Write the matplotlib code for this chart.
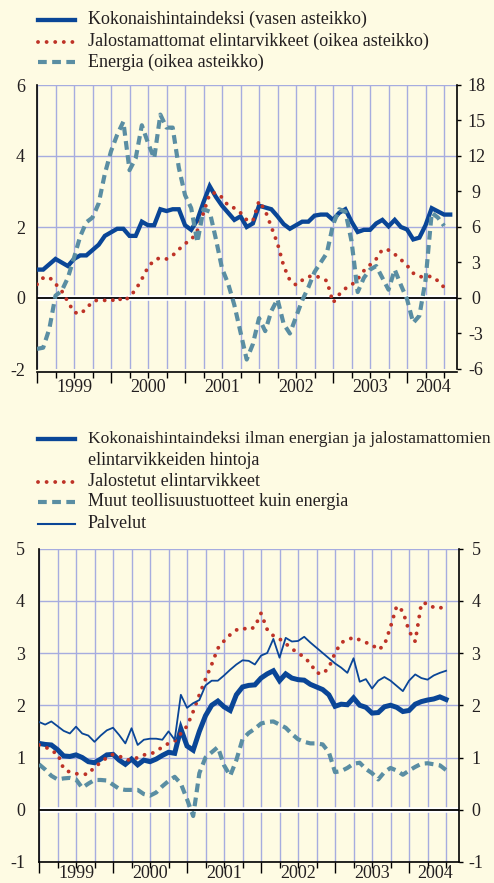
import numpy as np
import matplotlib
matplotlib.use("Agg")
import matplotlib.pyplot as plt
from matplotlib.lines import Line2D
from matplotlib.transforms import blended_transform_factory

plt.rcParams['font.family'] = ['Liberation Serif', 'DejaVu Serif']
plt.rcParams['axes.unicode_minus'] = False

# ---------------- data (monthly, starting January 1999) ----------------
years = ['1999', '2000', '2001', '2002', '2003', '2004']

# top panel
total_hicp = [0.8, 0.8, 0.95, 1.1, 1.0, 0.9, 1.1, 1.2, 1.2, 1.35,
              1.5, 1.75, 1.85, 1.95, 1.95, 1.75, 1.75, 2.15, 2.05, 2.05,
              2.5, 2.45, 2.5, 2.5, 2.05, 1.92, 2.2, 2.7, 3.15, 2.85,
              2.6, 2.4, 2.2, 2.3, 2.0, 2.1, 2.6, 2.55, 2.5, 2.3,
              2.08, 1.95, 2.05, 2.15, 2.15, 2.32, 2.35, 2.35, 2.2, 2.4,
              2.5, 2.15, 1.86, 1.92, 1.92, 2.1, 2.2, 2.02, 2.2, 2.0,
              1.93, 1.65, 1.7, 2.05, 2.53, 2.44, 2.35, 2.35]
unprocessed_food = [1.15, 1.7, 1.75, 1.2, 0.6, -0.3, -1.2, -1.35, -0.9, -0.3,
                    -0.15, -0.2, -0.28, 0.05, -0.28, 0.1, 0.7, 1.6, 2.6, 3.2,
                    3.4, 3.3, 3.6, 4.1, 4.6, 4.9, 5.7, 7.2, 8.8, 8.9,
                    8.5, 7.8, 7.6, 7.2, 6.6, 6.5, 8.2, 7.4, 6.0, 4.6,
                    2.7, 1.5, 1.1, 1.5, 1.8, 1.9, 1.7, 1.45, -0.4, 0.3,
                    0.8, 1.1, 1.6, 2.3, 2.8, 3.3, 4.1, 4.05, 3.7, 3.25,
                    2.75, 2.1, 1.8, 1.8, 1.83, 1.45, 0.9]
energy = [-4.3, -4.2, -2.6, 0.2, 0.6, 1.7, 3.4, 5.2, 6.4, 6.8,
          8.0, 10.5, 12.4, 13.8, 14.9, 10.8, 11.8, 14.6, 13.1, 11.8,
          15.5, 14.4, 14.4, 11.0, 8.7, 7.6, 4.7, 7.5, 7.3, 5.0,
          2.5, 1.2, -0.6, -2.9, -5.2, -3.9, -1.7, -2.8, -1.1, -0.1,
          -2.2, -3.0, -1.6, -0.2, 0.9, 2.2, 3.0, 3.8, 6.2, 7.5,
          7.3, 4.8, 0.5, 1.7, 2.4, 2.7, 1.7, 0.7, 2.4, 1.1,
          -0.1, -2.1, -1.5, 1.5, 7.2, 6.8, 6.1]

# bottom panel
core_hicp = [1.27, 1.25, 1.24, 1.15, 1.03, 1.02, 1.05, 1.0, 0.92, 0.9,
             0.97, 1.05, 1.06, 0.95, 0.87, 0.97, 0.86, 0.95, 0.92, 0.97,
             1.04, 1.1, 1.08, 1.55, 1.22, 1.14, 1.5, 1.8, 2.0, 2.08,
             1.97, 1.9, 2.2, 2.35, 2.38, 2.39, 2.52, 2.6, 2.66, 2.47,
             2.6, 2.52, 2.49, 2.48, 2.4, 2.35, 2.3, 2.2, 1.98, 2.02,
             2.01, 2.14, 2.0, 1.96, 1.85, 1.86, 1.97, 2.0, 1.96, 1.88,
             1.9, 2.02, 2.07, 2.1, 2.12, 2.16, 2.11]
processed_food = [1.24, 1.21, 1.12, 1.08, 0.78, 0.72, 0.69, 0.68, 0.68, 0.82,
                  0.9, 1.0, 1.06, 1.03, 0.96, 0.95, 1.0, 1.05, 1.06, 1.12,
                  1.2, 1.27, 1.31, 1.46, 1.6, 1.88, 2.2, 2.5, 2.78, 3.09,
                  3.23, 3.35, 3.44, 3.48, 3.44, 3.5, 3.76, 3.45, 3.33, 3.27,
                  3.18, 3.08, 3.0, 2.92, 2.8, 2.62, 2.6, 2.72, 3.0, 3.2,
                  3.25, 3.3, 3.25, 3.2, 3.16, 3.06, 3.15, 3.5, 3.9, 3.8,
                  3.42, 3.22, 3.95, 3.95, 3.87, 3.88, 3.8]
non_energy_goods = [0.87, 0.77, 0.65, 0.58, 0.6, 0.61, 0.58, 0.42, 0.5, 0.57,
                    0.57, 0.56, 0.48, 0.4, 0.38, 0.38, 0.38, 0.3, 0.27, 0.33,
                    0.45, 0.55, 0.63, 0.5, 0.2, -0.12, 0.7, 1.0, 1.1, 1.2,
                    0.85, 0.65, 0.95, 1.35, 1.47, 1.55, 1.65, 1.68, 1.69, 1.63,
                    1.57, 1.45, 1.35, 1.3, 1.27, 1.27, 1.25, 1.1, 0.72, 0.74,
                    0.8, 0.88, 0.9, 0.78, 0.7, 0.58, 0.72, 0.8, 0.75, 0.67,
                    0.75, 0.82, 0.88, 0.89, 0.87, 0.85, 0.76]
services = [1.68, 1.63, 1.69, 1.6, 1.51, 1.46, 1.59, 1.46, 1.42, 1.3,
            1.42, 1.52, 1.57, 1.43, 1.27, 1.56, 1.24, 1.34, 1.36, 1.36,
            1.34, 1.5, 1.34, 2.2, 1.95, 2.04, 2.1, 2.38, 2.47, 2.47,
            2.57, 2.68, 2.78, 2.86, 2.85, 2.78, 2.95, 3.0, 3.27, 2.91,
            3.29, 3.22, 3.23, 3.31, 3.2, 3.1, 3.0, 2.9, 2.8, 2.72,
            2.62, 2.9, 2.45, 2.5, 2.32, 2.47, 2.54, 2.47, 2.37, 2.27,
            2.47, 2.59, 2.52, 2.49, 2.57, 2.62, 2.66]

top_left_ticks = [-2, 0, 2, 4, 6]
top_right_ticks = [-6, -3, 0, 3, 6, 9, 12, 15, 18]
bottom_ticks = [-1, 0, 1, 2, 3, 4, 5]

legend_top = ['Kokonaishintaindeksi (vasen asteikko)',
              'Jalostamattomat elintarvikkeet (oikea asteikko)',
              'Energia (oikea asteikko)']
legend_bottom = ['Kokonaishintaindeksi ilman energian ja jalostamattomien',
                 'elintarvikkeiden hintoja',
                 'Jalostetut elintarvikkeet',
                 'Muut teollisuustuotteet kuin energia',
                 'Palvelut']

# ---------------- style ----------------
BG = '#fefbe3'
BLUE = '#0a4697'
RED = '#be3327'
TEAL = '#5a8ea3'
GRID = '#a6acdf'
TXT = '#231f20'
FS = 13

DOT = dict(color=RED, lw=2.8, linestyle=(0, (0.01, 2.2)), dash_capstyle='round')
DASH = dict(color=TEAL, lw=3.0, linestyle=(0, (2.1, 1.3)), dash_capstyle='butt')

W, H = 494, 883
fig = plt.figure(figsize=(W / 100, H / 100), dpi=100, facecolor=BG)


def fx(px):
    return px / W


def fy(py):
    return 1 - py / H


def make_axes(left, top, right, bottom, ylim, yticks, left_pad, bottom_out, hide_first_grid):
    ax = fig.add_axes([fx(left), fy(bottom), (right - left) / W, (bottom - top) / H])
    ax.set_facecolor(BG)
    ax.set_xlim(0, 68.1)
    ax.set_ylim(*ylim)
    ax.set_yticks(yticks)
    ax.set_xticks(np.arange(0, 61, 12))
    ax.set_xticks(np.arange(0, 67, 3), minor=True)
    ax.tick_params(axis='x', which='major', length=8, width=1, direction='out',
                   labelbottom=False, color='black')
    ax.tick_params(axis='x', which='minor', length=4, width=1, direction='out',
                   color='black')
    ax.tick_params(axis='y', which='major', length=0, pad=left_pad,
                   labelsize=FS, labelcolor=TXT)
    ax.grid(True, which='both', axis='x', color=GRID, lw=1)
    ax.grid(True, which='major', axis='y', color=GRID, lw=1)
    ax.set_axisbelow(True)
    if hide_first_grid:
        ax.yaxis.get_major_ticks()[0].gridline.set_visible(False)
    for s in ['top', 'right']:
        ax.spines[s].set_visible(False)
    for s in ['left', 'bottom']:
        ax.spines[s].set_color('black')
        ax.spines[s].set_linewidth(1.2)
    ax.spines['bottom'].set_position(('outward', bottom_out))
    ax.axhline(0, color='white', lw=4, zorder=1)
    ax.axhline(0, color='black', lw=1.3, zorder=1.1)
    return ax


def make_right(ax, ylim, yticks, pad):
    axr = ax.twinx()
    axr.set_ylim(*ylim)
    axr.set_yticks(yticks)
    axr.tick_params(axis='y', length=3, width=1, direction='out', pad=pad,
                    labelsize=FS, labelcolor=TXT, color='black')
    for s in ['top', 'left', 'bottom']:
        axr.spines[s].set_visible(False)
    axr.spines['right'].set_color('black')
    axr.spines['right'].set_linewidth(1.2)
    for t in axr.yaxis.get_major_ticks():
        t.label2.set_horizontalalignment('center')
    return axr


def year_labels(ax, ypos, va='center'):
    trans = blended_transform_factory(ax.transData, ax.transAxes)
    for i, y in enumerate(years):
        xm = 6 + 12 * i if i < len(years) - 1 else 64.2
        ax.text(xm, ypos, y, transform=trans, ha='center', va=va,
                fontsize=FS, color=TXT, clip_on=False)


# ---------------- top panel ----------------
ax1 = make_axes(37, 85, 457, 369, (-2, 6), top_left_ticks, 8.6, 2.5, True)
ax1r = make_right(ax1, (-6, 18), top_right_ticks, 10.7)

ax1.plot(np.arange(len(total_hicp)), total_hicp, color=BLUE, lw=3.1,
         solid_joinstyle='miter', zorder=3)
ax1r.plot(np.arange(len(unprocessed_food)), unprocessed_food, **DOT, zorder=3)
ax1r.plot(np.arange(len(energy)), energy, **DASH, zorder=4)
year_labels(ax1, (369 - 387.5) / 284)

# ---------------- bottom panel ----------------
ax2 = make_axes(39, 548.5, 459, 862, (-1, 5), bottom_ticks, 10, 0, False)
ax2r = make_right(ax2, (-1, 5), bottom_ticks, 9.2)

ax2.plot(np.arange(len(core_hicp)), core_hicp, color=BLUE, lw=3.6,
         solid_joinstyle='miter', zorder=3)
ax2.plot(np.arange(len(processed_food)), processed_food, **DOT, zorder=3.1)
ax2.plot(np.arange(len(non_energy_goods)), non_energy_goods, **DASH, zorder=3.2)
ax2.plot(np.arange(len(services)), services, color=BLUE, lw=1.3, zorder=3.3)
# year labels kept fully inside the figure bottom edge
year_labels(ax2, (862 - 878.5) / 313.5, va='baseline')


# ---------------- legends ----------------
def legend_entry(py, style, text, fs=FS):
    fig.add_artist(Line2D([fx(38), fx(75)], [fy(py), fy(py)],
                          transform=fig.transFigure, **style))
    fig.text(fx(88), fy(py), text, ha='left', va='center',
             fontsize=fs, color=TXT)


SOLID_THICK = dict(color=BLUE, lw=3.1)
SOLID_THIN = dict(color=BLUE, lw=1.5)

legend_entry(19.5, SOLID_THICK, legend_top[0])
legend_entry(41.5, DOT, legend_top[1])
legend_entry(62, DASH, legend_top[2])

legend_entry(438.5, SOLID_THICK, legend_bottom[0], fs=12.6)
fig.text(fx(88), fy(460.5), legend_bottom[1], ha='left', va='center',
         fontsize=FS, color=TXT)
legend_entry(481.5, DOT, legend_bottom[2])
legend_entry(501.5, DASH, legend_bottom[3])
legend_entry(523.5, SOLID_THIN, legend_bottom[4])

fig.savefig('out.png', dpi=100, facecolor=BG)
